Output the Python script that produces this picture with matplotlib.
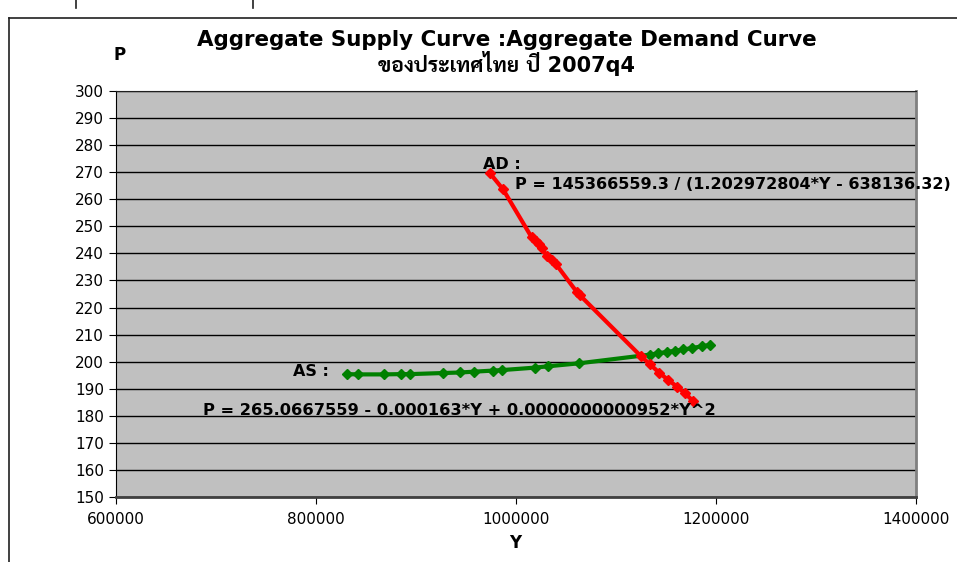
import matplotlib
matplotlib.use("Agg")
import matplotlib.pyplot as plt
from matplotlib.lines import Line2D

# AS series
as_y = [830700, 842300, 868000, 885000, 894000, 926700, 944000, 958000,
        976700, 986300, 1019000, 1032300, 1063300, 1134000, 1142000,
        1151000, 1159000, 1167000, 1176000, 1186000, 1194000]
as_p = [195.4, 195.3, 195.3, 195.4, 195.4, 195.8, 196.0, 196.3,
        196.7, 196.9, 197.8, 198.3, 199.4, 202.6, 203.1,
        203.6, 204.0, 204.5, 205.0, 205.7, 206.2]

# AD series
ad_y = [974000, 987000, 1015700, 1020000, 1023000, 1026000, 1030700,
        1036000, 1040000, 1060700, 1064000, 1124700, 1134000, 1143300,
        1152300, 1161300, 1169000, 1176700]
ad_p = [269.6, 263.7, 245.9, 244.5, 243.3, 242.0, 239.0,
        237.5, 236.0, 225.8, 224.5, 202.1, 199.0, 195.9,
        193.2, 190.7, 188.3, 185.6]

x_ticks = [600000, 800000, 1000000, 1200000, 1400000]
y_ticks = list(range(150, 301, 10))

title1 = "Aggregate Supply Curve :Aggregate Demand Curve"
title2 = "ของประเทศไทย ปี 2007q4"
ad_eq = "P = 145366559.3 / (1.202972804*Y - 638136.32)"
as_eq = "P = 265.0667559 - 0.000163*Y + 0.0000000000952*Y^2"

fams = ["DejaVu Sans", "Sarabun", "Bai Jamjuree"]
plt.rcParams["font.family"] = fams

fig = plt.figure(figsize=(9.57, 5.62), dpi=100)
W, H = 957, 562
ax = fig.add_axes([116 / W, 1 - 497 / H, 800 / W, 406 / H])
ax.set_facecolor("#C0C0C0")

ax.plot(as_y, as_p, color="#008000", lw=3, marker="D", ms=5.5, zorder=3)
ax.plot(ad_y, ad_p, color="#FF0000", lw=3, marker="D", ms=5, zorder=4)

ax.set_xlim(600000, 1400000)
ax.set_ylim(150, 300)
ax.set_xticks(x_ticks)
ax.set_yticks(y_ticks)
ax.set_xticklabels([str(v) for v in x_ticks])
ax.grid(True, axis="y", color="black", lw=1)
ax.set_axisbelow(True)
ax.tick_params(direction="out", length=5, labelsize=11, colors="black")
ax.tick_params(axis="x", pad=6)

ax.spines["right"].set_color("#808080")
ax.spines["right"].set_linewidth(2)
ax.spines["top"].set_color("#202020")
ax.spines["left"].set_color("black")
ax.spines["bottom"].set_color("#404040")
ax.spines["bottom"].set_linewidth(2)

ax.text(967000, 273.0, "AD :", fontsize=11.5, fontweight="bold",
        va="center", ha="left", clip_on=False)
ax.text(999000, 265.6, ad_eq, fontsize=11.5, fontweight="bold",
        va="center", ha="left", clip_on=False)
ax.text(777000, 196.2, "AS :", fontsize=11.5, fontweight="bold",
        va="center", ha="left", clip_on=False)
ax.text(687000, 181.9, as_eq, fontsize=11.7, fontweight="bold",
        va="center", ha="left", clip_on=False, zorder=5)

fig.text(507 / W, 1 - 40 / H, title1, fontsize=15.4, fontweight="bold",
         ha="center", va="center")
fig.text(507 / W, 1 - 63 / H, title2, fontsize=15, fontweight="bold",
         ha="center", va="center", family=fams)
fig.text(120 / W, 1 - 55 / H, "P", fontsize=12, fontweight="bold",
         ha="center", va="center")
fig.text(515 / W, 1 - 543 / H, "Y", fontsize=12, fontweight="bold",
         ha="center", va="center")

# outer frame of the chart area
fig.add_artist(Line2D([9 / W, 9 / W], [0, 1 - 18 / H], color="#202020", lw=1.2))
fig.add_artist(Line2D([9 / W, 1], [1 - 18 / H, 1 - 18 / H], color="#202020", lw=1.2))
for xp in (76, 253):
    fig.add_artist(Line2D([xp / W, xp / W], [1 - 8 / H, 1], color="#202020", lw=1.2))

fig.savefig("out.png", dpi=100)
